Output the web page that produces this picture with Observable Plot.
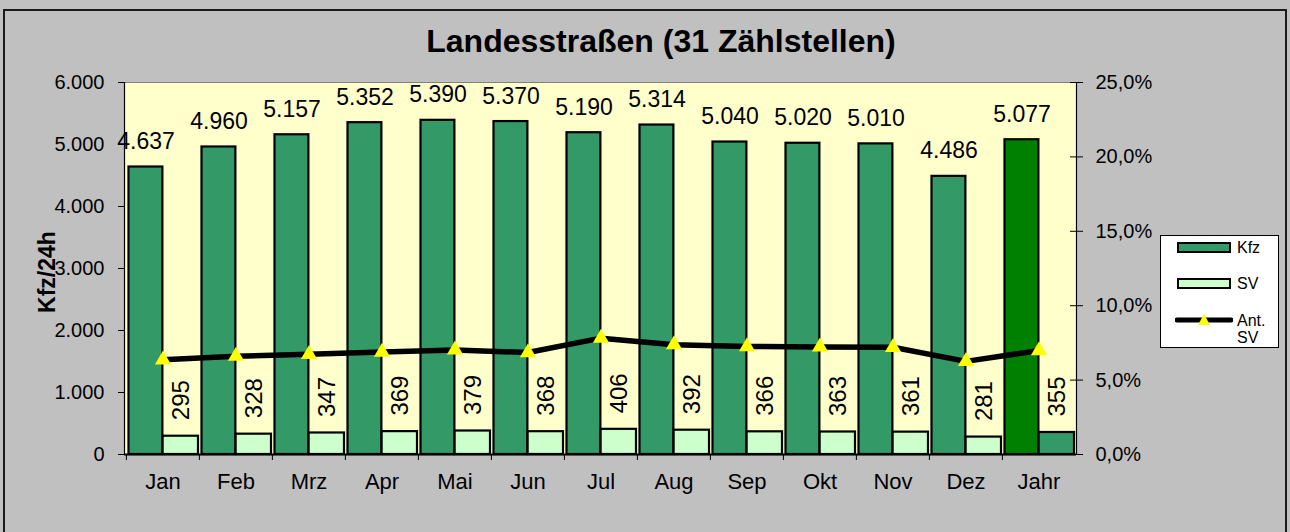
<!DOCTYPE html>
<html>
<head>
<meta charset="utf-8">
<script src="https://cdn.jsdelivr.net/npm/d3@7"></script>
<script src="https://cdn.jsdelivr.net/npm/@observablehq/plot@0.6"></script>
<style>
  html, body { margin: 0; padding: 0; background: #c0c0c0; overflow: hidden; }
  body { width: 1290px; height: 532px; position: relative; font-family: "Liberation Sans", Arial, sans-serif; }
  #border { position: absolute; left: 3px; top: 9px; width: 1284px; height: 540px; border: 2px solid #1a1a1a; box-sizing: border-box; }
  .layer { position: absolute; left: 0; top: 0; }
  #title { position: absolute; left: 311px; width: 700px; top: 25px; text-align: center; font-weight: bold; font-size: 32px; line-height: 32px; color: #000; }
  #ytitle { position: absolute; left: 47px; top: 272px; transform: translate(-50%, -50%) rotate(-90deg); font-weight: bold; font-size: 23px; white-space: nowrap; color: #000; }
  #legend { position: absolute; left: 1160px; top: 235px; width: 119px; height: 113px; background: #fff; border: 1px solid #000; box-sizing: border-box; font-size: 16px; }
  .li { position: absolute; left: 14px; display: flex; align-items: flex-start; }
  .li svg { display: block; }
  .li span { margin-left: 4px; line-height: 17px; font-size: 16px; }
</style>
</head>
<body>
<div id="border"></div>
<div id="title">Landesstraßen (31 Zählstellen)</div>
<div id="chart"></div>
<div id="ytitle">Kfz/24h</div>
<div id="legend"></div>
<script>
const months = ["Jan","Feb","Mrz","Apr","Mai","Jun","Jul","Aug","Sep","Okt","Nov","Dez","Jahr"];
const kfz = [4637,4960,5157,5352,5390,5370,5190,5314,5040,5020,5010,4486,5077];
const sv = [295,328,347,369,379,368,406,392,366,363,361,281,355];
const antSV = [6.36,6.61,6.73,6.89,7.03,6.85,7.82,7.38,7.26,7.23,7.21,6.26,6.99];
const leftTicks = [0,1000,2000,3000,4000,5000,6000];
const rightTicks = [0,5,10,15,20,25];
const seriesNames = ["Kfz","SV","Ant. SV"];

const data = months.map((m, i) => ({month: m, kfz: kfz[i], sv: sv[i], ant: antSV[i]}));

const de = d3.formatLocale({decimal: ",", thousands: ".", grouping: [3], currency: ["", " €"]});
const fmtInt = de.format(",d");
const fmtPct = d => de.format(".1f")(d) + "%";

const W = 1290, H = 532;
const mL = 124, mR = 214, mT = 82, mB = 78;
const bw = (W - mL - mR) / months.length;
const font = '"Liberation Sans", Arial, sans-serif';
const common = {
  width: W, height: H,
  marginLeft: mL, marginRight: mR, marginTop: mT, marginBottom: mB,
  style: {background: "transparent", fontFamily: font, color: "#000", overflow: "visible"}
};

const kfzColor = "#339966", kfzYear = "#008000", svColor = "#ccffcc";

const p1 = Plot.plot({
  ...common,
  x: {type: "band", domain: months, padding: 0},
  y: {domain: [0, 6000]},
  marks: [
    Plot.frame({fill: "#ffffcc", stroke: "#808080"}),
    Plot.barY(data, {x: "month", y: "kfz", fill: d => d.month === "Jahr" ? kfzYear : kfzColor,
      stroke: "#000", strokeWidth: 2.2, insetLeft: 2.5, insetRight: bw / 2}),
    Plot.barY(data, {x: "month", y: "sv", fill: d => d.month === "Jahr" ? kfzColor : svColor,
      stroke: "#000", strokeWidth: 2.2, insetLeft: bw / 2, insetRight: 1}),
    Plot.text(data, {x: "month", y: "kfz", text: d => fmtInt(d.kfz), dx: -17, dy: -18,
      lineAnchor: "bottom", fontSize: 23}),
    Plot.text(data, {x: "month", y: "sv", text: d => String(d.sv), rotate: -90, textAnchor: "start",
      dx: 18, dy: -16, fontSize: 24}),
    Plot.ruleY([0], {stroke: "#000", strokeWidth: 2}),
    Plot.frame({anchor: "left", stroke: "#000", strokeWidth: 1.2}),
    Plot.axisY({ticks: leftTicks, tickSize: 6, tickPadding: 14, tickFormat: fmtInt, fontSize: 20, label: null}),
    Plot.axisX({tickSize: 6, dx: -bw / 2, tickFormat: () => "", label: null}),
    Plot.axisX({tickSize: 0, tickPadding: 19, fontSize: 22, label: null})
  ]
});

const p2 = Plot.plot({
  ...common,
  x: {type: "band", domain: months, padding: 0, axis: null},
  y: {domain: [0, 25], axis: null},
  marks: [
    Plot.frame({anchor: "right", stroke: "#000", strokeWidth: 1.2}),
    Plot.line(data, {x: "month", y: "ant", stroke: "#000", strokeWidth: 5.5}),
    Plot.dot(data, {x: "month", y: "ant", symbol: "triangle", r: 6, fill: "#ffff00", stroke: "none"}),
    Plot.axisY({anchor: "right", ticks: rightTicks, tickSize: 13, dx: -7, tickFormat: () => "", label: null}),
    Plot.axisY({anchor: "right", ticks: rightTicks, tickSize: 0, tickPadding: 19, tickFormat: fmtPct, fontSize: 20, label: null})
  ]
});

p1.classList.add("layer");
p2.classList.add("layer");
const chart = document.getElementById("chart");
chart.appendChild(p1);
chart.appendChild(p2);

// Legend
const legend = document.getElementById("legend");
const items = [
  {name: seriesNames[0], top: 3, kind: "bar", fill: kfzColor},
  {name: seriesNames[1], top: 39, kind: "bar", fill: svColor},
  {name: seriesNames[2], top: 76, kind: "line"}
];
for (const it of items) {
  const div = document.createElement("div");
  div.className = "li";
  div.style.top = it.top + "px";
  let sw;
  if (it.kind === "bar") {
    sw = `<svg width="58" height="16"><rect x="3" y="4" width="52" height="9" fill="${it.fill}" stroke="#000" stroke-width="2"/></svg>`;
  } else {
    sw = `<svg width="58" height="16"><line x1="2" y1="8" x2="56" y2="8" stroke="#000" stroke-width="5" stroke-linecap="round"/><path d="M29,2 L35,13 L23,13 Z" fill="#ffff00"/></svg>`;
  }
  const label = it.name.replace(" ", "<br>");
  div.innerHTML = sw + `<span>${label}</span>`;
  legend.appendChild(div);
}
</script>
</body>
</html>
